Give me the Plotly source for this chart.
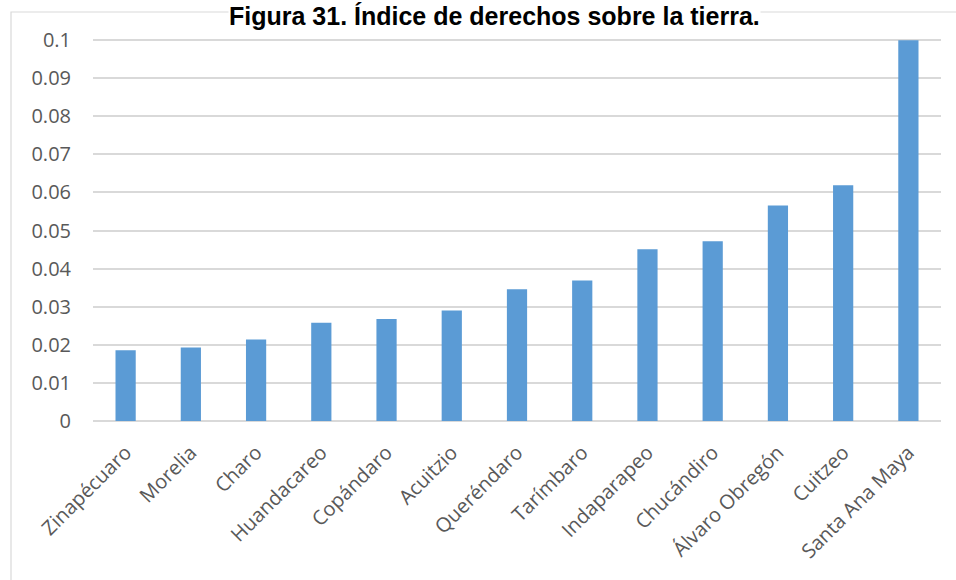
import plotly.graph_objects as go

# Índice de derechos sobre la tierra por municipio
municipios = [
    "Zinapécuaro", "Morelia", "Charo", "Huandacareo", "Copándaro", "Acuitzio",
    "Queréndaro", "Tarímbaro", "Indaparapeo", "Chucándiro", "Álvaro Obregón",
    "Cuitzeo", "Santa Ana Maya",
]
indice = [
    0.0186, 0.0193, 0.0214, 0.0258, 0.0268, 0.0290,
    0.0346, 0.0369, 0.0451, 0.0472, 0.0566, 0.0619, 0.1000,
]
y_ticks = [0, 0.01, 0.02, 0.03, 0.04, 0.05, 0.06, 0.07, 0.08, 0.09, 0.1]
y_tick_text = ["0", "0.01", "0.02", "0.03", "0.04", "0.05", "0.06",
               "0.07", "0.08", "0.09", "0.1"]

W, H = 956, 580
L, R, T, B = 93, 15, 39, 159
plot_w = W - L - R
plot_h = H - T - B


def px_x(px):
    return (px - L) / plot_w


def px_y(py):
    return (H - B - py) / plot_h


fig = go.Figure(
    go.Bar(
        x=municipios,
        y=indice,
        marker=dict(color="#5b9bd5", line=dict(width=0)),
        hoverinfo="x+y",
    )
)

fig.update_layout(
    width=W,
    height=H,
    margin=dict(l=L, r=R, t=T, b=B, pad=0),
    paper_bgcolor="white",
    plot_bgcolor="white",
    bargap=0.69,
    showlegend=False,
    font=dict(family="Open Sans", color="#595959", size=20),
    xaxis=dict(
        tickangle=-45,
        showgrid=False,
        showline=False,
        zeroline=False,
        ticks="",
        ticklabelstandoff=15,
        tickfont=dict(family="Open Sans", size=20, color="#595959"),
    ),
    yaxis=dict(
        range=[0, 0.1003],
        tickvals=y_ticks,
        ticktext=y_tick_text,
        showgrid=True,
        gridcolor="#d9d9d9",
        gridwidth=1.5,
        zeroline=True,
        zerolinecolor="#d9d9d9",
        zerolinewidth=1.5,
        showline=False,
        ticks="",
        ticklabelstandoff=21,
        tickfont=dict(family="Open Sans", size=20, color="#595959"),
    ),
    shapes=[
        dict(
            type="rect",
            xref="paper", yref="paper",
            x0=px_x(11), x1=px_x(962),
            y0=px_y(600), y1=px_y(12),
            line=dict(color="#d9d9d9", width=1.2),
            fillcolor="rgba(0,0,0,0)",
            layer="below",
        )
    ],
    annotations=[
        dict(
            text="<b>Figura 31. Índice de derechos sobre la tierra.</b>",
            xref="paper", yref="paper",
            x=px_x(494), y=px_y(1),
            xanchor="center", yanchor="top",
            showarrow=False,
            bgcolor="white",
            borderpad=0,
            font=dict(family="Liberation Sans", size=25, color="black"),
        )
    ],
)

fig.write_html("out.html")
